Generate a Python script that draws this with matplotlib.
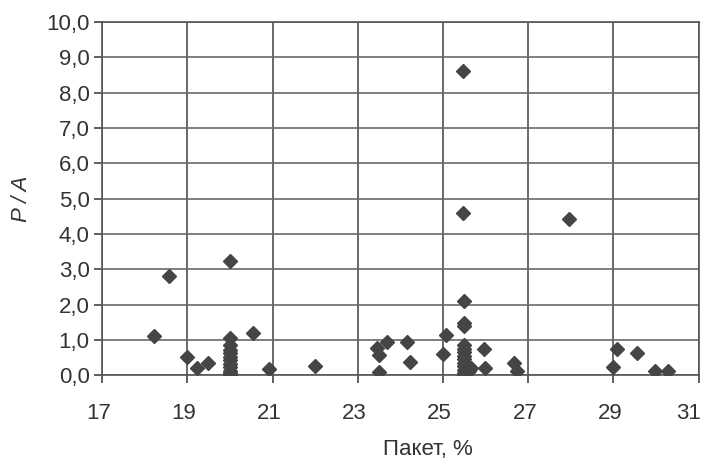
import matplotlib.pyplot as plt
from matplotlib.ticker import FuncFormatter
from matplotlib.transforms import ScaledTranslation

# Пакет, % vs P / A
paket = [18.21, 18.56, 19.0, 19.22, 19.49,
         20.0, 20.0, 20.0, 20.0, 20.0, 20.0, 20.0, 20.0, 20.0, 20.0, 20.0, 20.0,
         20.53, 20.92, 22.0,
         23.46, 23.5, 23.5, 23.69, 24.16, 24.22, 25.06, 25.0,
         25.47, 25.47, 25.49, 25.49, 25.49, 25.49, 25.49, 25.49, 25.49, 25.49,
         25.49, 25.49, 25.49, 25.49, 25.49, 25.65, 25.6,
         25.96, 25.98, 26.66, 26.74, 27.95,
         29.08, 29.0, 29.56, 29.98, 30.29]
p_a = [1.10, 2.80, 0.52, 0.19, 0.35,
       3.24, 1.04, 0.85, 0.72, 0.62, 0.52, 0.42, 0.32, 0.22, 0.12, 0.05, 0.0,
       1.18, 0.16, 0.25,
       0.77, 0.58, 0.09, 0.94, 0.94, 0.38, 1.13, 0.59,
       8.62, 4.58, 2.11, 1.48, 1.40, 0.85, 0.75, 0.65, 0.55, 0.45, 0.35,
       0.25, 0.15, 0.06, 0.0, 0.2, 0.12,
       0.75, 0.19, 0.35, 0.12, 4.41,
       0.73, 0.22, 0.63, 0.12, 0.12]

x_ticks = [17, 19, 21, 23, 25, 27, 29, 31]
y_ticks = [0, 1, 2, 3, 4, 5, 6, 7, 8, 9, 10]

plt.rcParams['font.family'] = ['Liberation Sans', 'DejaVu Sans']

fig = plt.figure(figsize=(7.05, 4.62), dpi=100)
ax = fig.add_axes([0.145, 0.188, 0.846, 0.764])

ax.plot(paket, p_a, linestyle='none', marker='D', markersize=7,
        color='#454545', zorder=3)

ax.set_xlim(17, 31)
ax.set_ylim(0, 10)
ax.set_xticks(x_ticks)
ax.set_yticks(y_ticks)
ax.yaxis.set_major_formatter(FuncFormatter(lambda v, p: '{:.1f}'.format(v).replace('.', ',')))
ax.xaxis.grid(True, color='#505050', linewidth=1.2)
ax.yaxis.grid(True, color='#6a6a6a', linewidth=1.2)
ax.set_axisbelow(True)
for s in ax.spines.values():
    s.set_color('#555555')
    s.set_linewidth(1.2)
ax.tick_params(axis='both', labelsize=16, colors='#333333', length=6,
               width=1.1, direction='out')
ax.tick_params(axis='y', pad=3)
ax.tick_params(axis='x', pad=14)

# labels sit a little left of their ticks, the last one pushed in from the edge
labels = ax.get_xticklabels()
for i, lab in enumerate(labels):
    dx = -7 if i == len(labels) - 1 else -2.5
    lab.set_transform(lab.get_transform() + ScaledTranslation(dx / 72, 0, fig.dpi_scale_trans))

ax.set_xlabel('Пакет, %', fontsize=16, color='#333333')
ax.xaxis.set_label_coords(0.546, -0.18)
ax.set_ylabel('P / A', fontsize=16, color='#333333', style='italic', labelpad=10)

fig.savefig('out.png', dpi=100)
